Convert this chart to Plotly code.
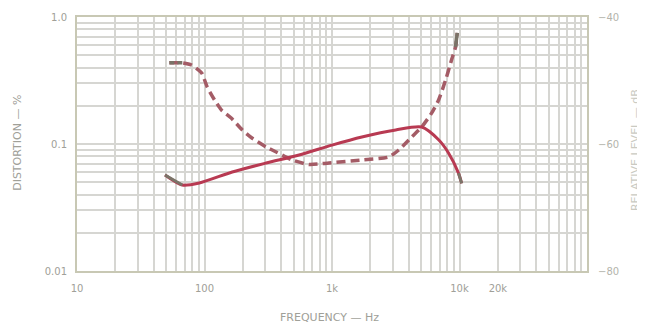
import plotly.graph_objects as go

# ---- data ----
stereo_freq = [53, 67, 79, 95, 105, 120, 136, 162, 198, 237, 305, 365, 487, 661, 948, 1715, 2786, 3337, 4217, 5046, 6040, 6855, 7780, 8660, 9310, 9600]
stereo_dist = [0.436, 0.436, 0.419, 0.362, 0.281, 0.222, 0.185, 0.160, 0.129, 0.111, 0.0947, 0.0865, 0.0748, 0.0690, 0.0709, 0.0748, 0.079, 0.0897, 0.1135, 0.136, 0.175, 0.222, 0.319, 0.459, 0.58, 0.75]

mono_freq = [49, 67, 91, 165, 305, 552, 1000, 1715, 3162, 5046, 6855, 8200, 9820, 10400]
mono_dist = [0.057, 0.0475, 0.0493, 0.0602, 0.0709, 0.082, 0.098, 0.1135, 0.129, 0.136, 0.108, 0.085, 0.059, 0.049]

x_tick_vals = [10, 100, 1000, 10000, 20000]
x_tick_text = ["10", "100", "1k", "10k", "20k"]
y_tick_vals = [0.01, 0.1, 1.0]
y_tick_text = ["0.01", "0.1", "1.0"]
db_tick_vals = [-80, -60, -40]
db_tick_text = ["\u221280", "\u221260", "\u221240"]

labels = [("MONO", 1360, 0.141), ("STEREO", 1430, 0.053)]

# ---- styling ----
GRID = "#d6d6d2"
TXT = "#a0a098"
RED_SOLID = "#b83a52"
RED_DASH = "#a45c66"
STUB = "#7a7468"
FONT = "DejaVu Sans"

minor_x = [k * 10 ** d for d in range(1, 5) for k in range(2, 10)]
minor_y = [k * 10 ** d for d in (-2, -1) for k in range(2, 10)]

fig = go.Figure()

fig.add_trace(go.Scatter(x=stereo_freq, y=stereo_dist, mode="lines",
                         line=dict(color=RED_DASH, width=3.5, dash="9px,5px", shape="spline", smoothing=0.6),
                         hoverinfo="skip", showlegend=False))
fig.add_trace(go.Scatter(x=stereo_freq[:2], y=stereo_dist[:2], mode="lines",
                         line=dict(color=STUB, width=3.5, dash="5px,3px"),
                         hoverinfo="skip", showlegend=False))
fig.add_trace(go.Scatter(x=stereo_freq[-2:], y=stereo_dist[-2:], mode="lines",
                         line=dict(color=STUB, width=3.5),
                         hoverinfo="skip", showlegend=False))
fig.add_trace(go.Scatter(x=mono_freq, y=mono_dist, mode="lines",
                         line=dict(color=RED_SOLID, width=3, shape="spline", smoothing=0.7),
                         hoverinfo="skip", showlegend=False))
fig.add_trace(go.Scatter(x=mono_freq[-2:], y=mono_dist[-2:], mode="lines",
                         line=dict(color=STUB, width=3),
                         hoverinfo="skip", showlegend=False))
fig.add_trace(go.Scatter(x=mono_freq[:2], y=mono_dist[:2], mode="lines",
                         line=dict(color=STUB, width=3),
                         hoverinfo="skip", showlegend=False))
# invisible trace to activate right axis
fig.add_trace(go.Scatter(x=[10], y=[-80], yaxis="y2", mode="markers",
                         marker=dict(opacity=0), hoverinfo="skip", showlegend=False))

for text, fx, fy in labels:
    fig.add_annotation(x=fx, y=fy, xref="x", yref="y", text="<b>%s</b>" % text,
                       showarrow=False, font=dict(family=FONT, size=9, color="#c04a5c"))

fig.add_annotation(x=-0.116, y=0.504, xref="paper", yref="paper", text="DISTORTION \u2014 %",
                   xanchor="center", yanchor="middle",
                   textangle=-90, showarrow=False, font=dict(family=FONT, size=11, color=TXT))
fig.add_annotation(x=1.094, y=0.476, xref="paper", yref="paper", text="RELATIVE LEVEL \u2014 dB",
                   xanchor="center", yanchor="middle",
                   textangle=-90, showarrow=False, font=dict(family=FONT, size=11, color="#cacac2"))
fig.add_annotation(x=0.496, y=-0.185, xref="paper", yref="paper", text="FREQUENCY \u2014 Hz",
                   xanchor="center", yanchor="middle",
                   showarrow=False, font=dict(family=FONT, size=11, color=TXT))

fig.update_layout(
    width=645, height=327,
    margin=dict(l=69, r=66, t=9, b=64),
    paper_bgcolor="white", plot_bgcolor="white",
    font=dict(family=FONT, size=10, color=TXT),
    xaxis=dict(type="log", range=[1, 5], tickmode="array", tickvals=x_tick_vals, ticktext=x_tick_text,
               automargin=False,
               showgrid=True, gridcolor=GRID, gridwidth=2,
               minor=dict(tickmode="array", tickvals=minor_x, showgrid=True, gridcolor=GRID, gridwidth=2),
               showline=True, linecolor="#c8c8b4", linewidth=2, mirror=True,
               ticks="outside", ticklen=7, tickcolor="rgba(0,0,0,0)", zeroline=False),
    yaxis=dict(type="log", range=[-2, 0], tickmode="array", tickvals=y_tick_vals, ticktext=y_tick_text,
               automargin=False,
               showgrid=True, gridcolor=GRID, gridwidth=2,
               minor=dict(tickmode="array", tickvals=minor_y, showgrid=True, gridcolor=GRID, gridwidth=2),
               showline=True, linecolor="#c8c8b4", linewidth=2, mirror=True,
               ticks="outside", ticklen=6, tickcolor="rgba(0,0,0,0)", zeroline=False),
    yaxis2=dict(overlaying="y", side="right", range=[-80, -40], tickmode="array",
                automargin=False,
                tickvals=db_tick_vals, ticktext=db_tick_text, showgrid=False, zeroline=False,
                ticks="outside", ticklen=8, tickcolor="rgba(0,0,0,0)",
                tickfont=dict(family=FONT, size=10, color="#b4b4ac")),
)

fig.write_html("out.html")
